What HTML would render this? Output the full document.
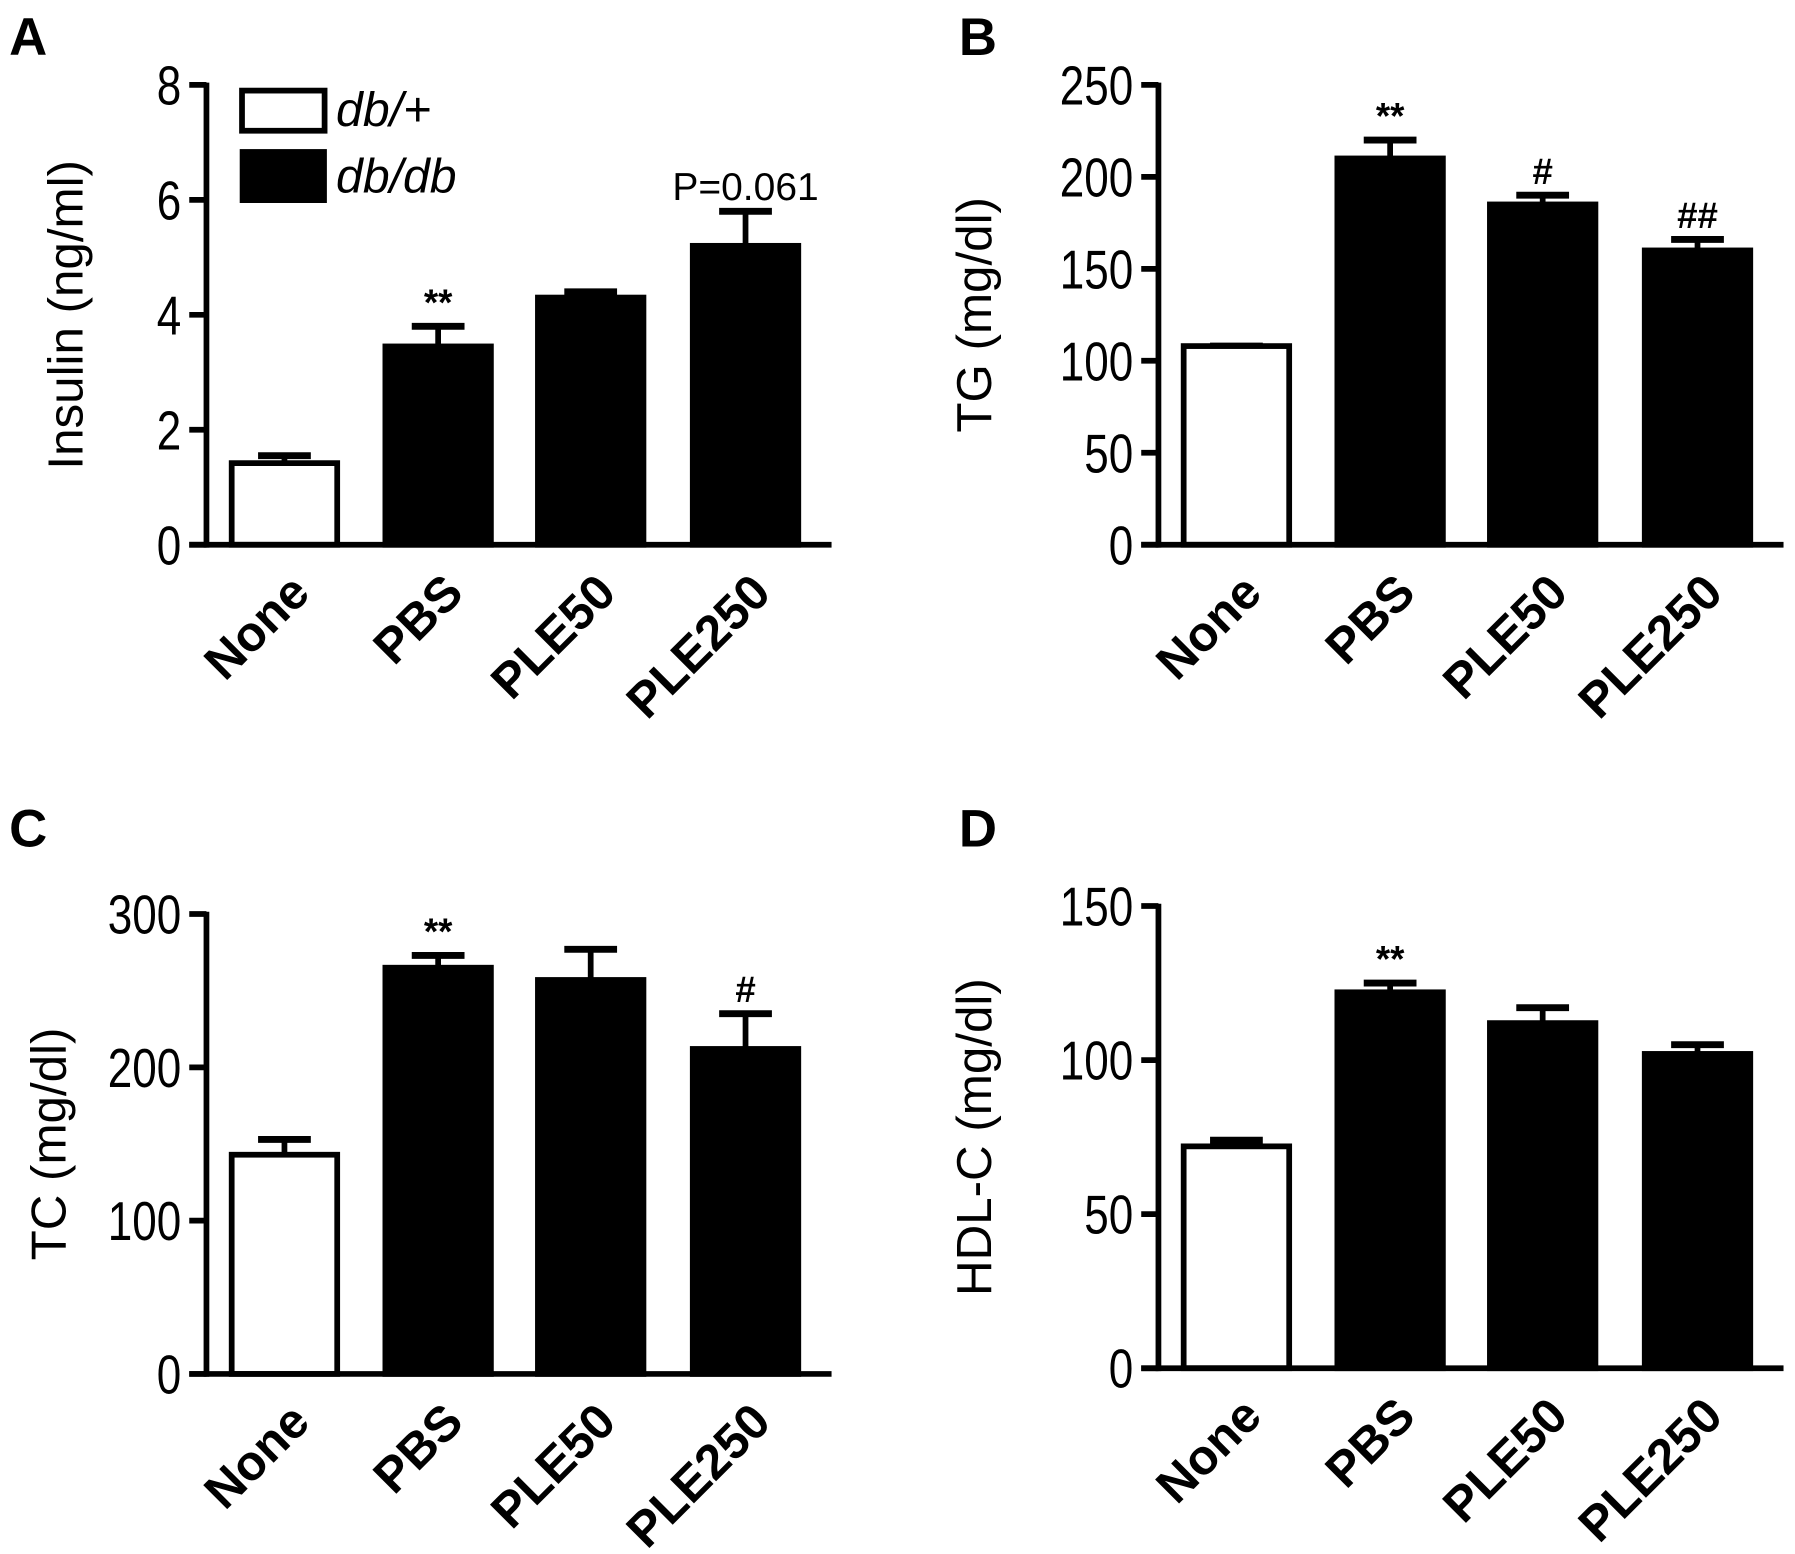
<!DOCTYPE html>
<html><head><meta charset="utf-8"><style>
html,body{margin:0;padding:0;background:#fff}
svg{display:block}
text{font-family:"Liberation Sans",Arial,sans-serif;fill:#000}
</style></head><body>
<svg id="fig" width="1795" height="1554" viewBox="0 0 1565 1355" preserveAspectRatio="none" xmlns="http://www.w3.org/2000/svg"></svg>
<script>
const categories = ["None","PBS","PLE50","PLE250"];
const insulinVals = [1.42, 3.45, 4.3, 5.2];
const insulinErr = [1.55, 3.8, 4.4, 5.8];
const insulinAnn = ["", "**", "", "P=0.061"];
const insulinTicks = [0,2,4,6,8];
const tgVals = [108, 210, 185, 160];
const tgErr = [108, 220, 190, 166];
const tgAnn = ["", "**", "#", "##"];
const tgTicks = [0,50,100,150,200,250];
const tcVals = [143, 265, 257, 212];
const tcErr = [153, 273, 277, 235];
const tcAnn = ["", "**", "", "#"];
const tcTicks = [0,100,200,300];
const hdlVals = [72, 122, 112, 102];
const hdlErr = [74, 125, 117, 105];
const hdlAnn = ["", "**", "", ""];
const hdlTicks = [0,50,100,150];

const NS = "http://www.w3.org/2000/svg";
const svg = document.getElementById("fig");
function mk(tag, attrs, parent, txt){
  const e = document.createElementNS(NS, tag);
  for (const k in attrs) e.setAttribute(k, attrs[k]);
  if (txt !== undefined) e.textContent = txt;
  (parent || svg).appendChild(e);
  return e;
}

function panel(cfg){
  const g = mk("g", {});
  
  
  const ax = cfg.ax, y0 = cfg.y0, y1 = cfg.y1, max = cfg.ticks[cfg.ticks.length-1];
  const yS = v => y0 - (v / max) * (y0 - y1);
  const barX = [ax+22, ax+156, ax+289, ax+424];
  const bw = 92;
  const L = mk("text", {x: cfg.lx, y: cfg.ly, "font-size": 46, "font-weight": "bold"}, g, cfg.letter);
  
  
  const yl = mk("text", {x: 0, y: 0, "font-size": 43, "text-anchor": "middle",
    transform: `translate(${cfg.ylx},${(y0+y1)/2}) rotate(-90)`}, g, cfg.ylabel);
  
  
  categories.forEach((c, i) => {
    const v = cfg.vals[i], e = cfg.err[i];
    const cx = barX[i] + bw/2;
    const ey = yS(e), by = yS(v);
    const eb = mk("line", {x1: cx, x2: cx, y1: by, y2: ey, stroke: "#000", "stroke-width": 5}, g);
    
    
    const cap = mk("line", {x1: cx-23, x2: cx+23, y1: ey, y2: ey, stroke: "#000", "stroke-width": 6}, g);
    
    
    const r = mk("rect", {x: barX[i], y: by, width: bw, height: y0 - by,
      fill: i === 0 ? "#fff" : "#000", stroke: "#000", "stroke-width": 5}, g);
    
    
    if (cfg.ann[i]) {
      const big = cfg.ann[i].startsWith("P");
      const a = mk("text", {x: cx, y: ey - 10, "font-size": big ? 34 : 32, "font-weight": big ? "normal" : "bold", "text-anchor": "middle"}, g, cfg.ann[i]);
      
      
    }
    const xl = mk("text", {x: 0, y: 0, "font-size": 43, "font-weight": "bold", "text-anchor": "end",
      transform: `translate(${cx+24},${y0+44}) rotate(-45)`}, g, c);
    
    
  });
  const ya = mk("line", {x1: ax, x2: ax, y1: y1 - 2, y2: y0 + 2.5, stroke: "#000", "stroke-width": 5}, g);
  
  
  const xa = mk("line", {x1: ax - 15, x2: ax + 545, y1: y0, y2: y0, stroke: "#000", "stroke-width": 5}, g);
  
  
  cfg.ticks.forEach(t => {
    const ty = yS(t);
    const tk = mk("line", {x1: ax - 15, x2: ax, y1: ty, y2: ty, stroke: "#000", "stroke-width": 5}, g);
    
    
    const tl = mk("text", {x: 0, y: 0, "font-size": 48, "text-anchor": "end",
      transform: `translate(${ax - 22},${ty + 17}) scale(0.8,1)`}, g, String(t));
    
    
  });
  return g;
}

panel({name: "panel-a-insulin", letter: "A", lx: 8, ly: 48, ax: 180, y0: 475, y1: 74,
  ticks: insulinTicks, vals: insulinVals, err: insulinErr, ann: insulinAnn, ylabel: "Insulin (ng/ml)", ylx: 72});
panel({name: "panel-b-tg", letter: "B", lx: 836, ly: 48, ax: 1010, y0: 475, y1: 74,
  ticks: tgTicks, vals: tgVals, err: tgErr, ann: tgAnn, ylabel: "TG (mg/dl)", ylx: 864});
panel({name: "panel-c-tc", letter: "C", lx: 8, ly: 738, ax: 180, y0: 1198, y1: 797,
  ticks: tcTicks, vals: tcVals, err: tcErr, ann: tcAnn, ylabel: "TC (mg/dl)", ylx: 57});
panel({name: "panel-d-hdl", letter: "D", lx: 836, ly: 738, ax: 1010, y0: 1193, y1: 790,
  ticks: hdlTicks, vals: hdlVals, err: hdlErr, ann: hdlAnn, ylabel: "HDL-C (mg/dl)", ylx: 864});

const lg = mk("g", {});


const lw = mk("rect", {x: 211, y: 79, width: 72, height: 35, fill: "#fff", stroke: "#000", "stroke-width": 5}, lg);


const lb = mk("rect", {x: 209, y: 130, width: 76, height: 47, fill: "#000"}, lg);


const t1 = mk("text", {x: 293, y: 110, "font-size": 42, "font-style": "italic"}, lg, "db/+");


const t2 = mk("text", {x: 293, y: 168, "font-size": 42, "font-style": "italic"}, lg, "db/db");


</script>
</body></html>
